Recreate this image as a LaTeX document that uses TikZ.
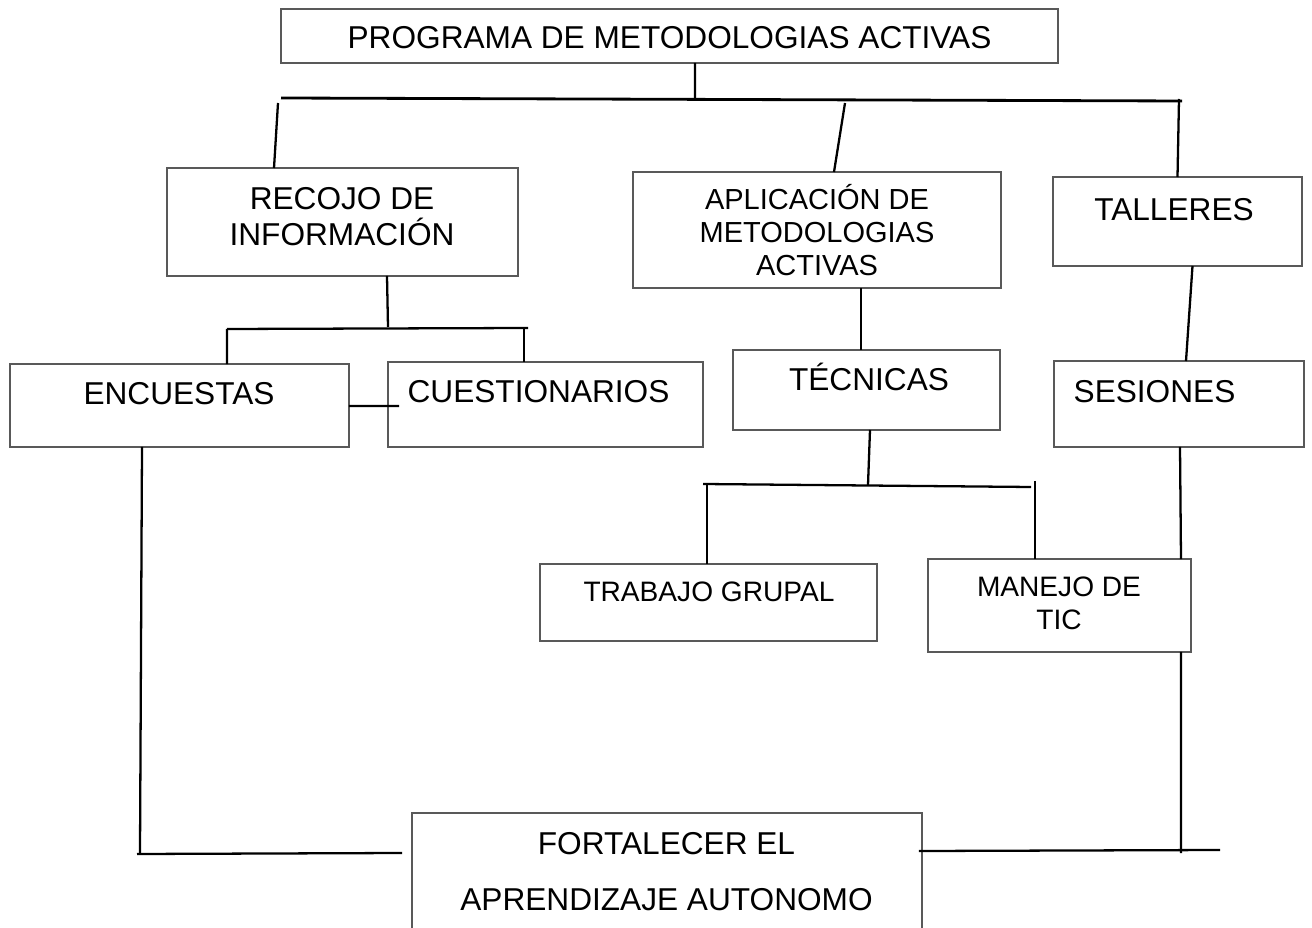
\documentclass[tikz,border=0pt]{standalone}
\usepackage{fontspec}
\setmainfont{Liberation Sans}
\usetikzlibrary{calc,positioning}

\begin{document}
\begin{tikzpicture}[
    x=0.02cm, y=-0.02cm,
    box/.style={rectangle, draw=black!65, line width=0.8pt, inner sep=0pt, outer sep=0pt},
    conn/.style={draw=black, line width=1.3pt},
    txt/.style={inner sep=0pt, anchor=base, align=center, font=\fontsize{18}{20.4}\selectfont},
    txtsm/.style={txt, font=\fontsize{16}{19.3}\selectfont}
]
\useasboundingbox (0,0) rectangle (1312,928);

% Boxes
\node[box, minimum width=15.54cm, minimum height=1.08cm] (prog) at (669.5,36) {};
\node[box, minimum width=7.02cm, minimum height=2.16cm] (recojo) at (342.5,222) {};
\node[box, minimum width=7.36cm, minimum height=2.32cm] (aplic) at (817,230) {};
\node[box, minimum width=4.98cm, minimum height=1.78cm] (talleres) at (1177.5,221.5) {};
\node[box, minimum width=6.78cm, minimum height=1.66cm] (encuestas) at (179.5,405.5) {};
\node[box, minimum width=6.30cm, minimum height=1.70cm] (cuest) at (545.5,404.5) {};
\node[box, minimum width=5.34cm, minimum height=1.60cm] (tecnicas) at (866.5,390) {};
\node[box, minimum width=5.00cm, minimum height=1.72cm] (sesiones) at (1179,404) {};
\node[box, minimum width=6.74cm, minimum height=1.54cm] (trabajo) at (708.5,602.5) {};
\node[box, minimum width=5.26cm, minimum height=1.86cm] (manejo) at (1059.5,605.5) {};
\node[box, minimum width=10.20cm, minimum height=2.80cm] (fort) at (667,883) {};

% Texts (base = last line)
\node[txt] (tprog) at (669.5,48.4) {PROGRAMA DE METODOLOGIAS ACTIVAS};
\node[txt] (trecojo) at (342,245.4) {RECOJO DE\\INFORMACIÓN};
\node[txt, font=\fontsize{16.5}{18.7}\selectfont] (taplic) at (817,275.4) {APLICACIÓN DE\\METODOLOGIAS\\ACTIVAS};
\node[txt] (ttall) at (1174,220.4) {TALLERES};
\node[txt] (tenc) at (179,404.4) {ENCUESTAS};
\node[txt] (tcuest) at (538.5,402.4) {CUESTIONARIOS};
\node[txt] (ttec) at (869,390.4) {TÉCNICAS};
\node[txt] (tses) at (1154.5,402.4) {SESIONES};
\node[txtsm] (ttrab) at (709,602) {TRABAJO GRUPAL};
\node[txtsm] (tman) at (1059,630) {MANEJO DE\\TIC};
\node[txt, font=\fontsize{18}{31.75}\selectfont] (tfort) at (666.5,910.4) {FORTALECER EL\\APRENDIZAJE AUTONOMO};

% Bar points
\coordinate (tbL) at (281,98);
\coordinate (tbR) at (1182,101);
\coordinate (rbL) at (227,329);
\coordinate (rbR) at (528,328);
\coordinate (kbL) at (703,484);
\coordinate (kbR) at (1031,487);
\coordinate (ec) at (399,406);
\coordinate (blL) at (140,853);
\coordinate (blR) at (402,853);
\coordinate (brR) at (1220,850);
\coordinate (vr) at (1181,853);

% Top level
\draw[conn] ($(prog.south)+(25.5,0)$) -- (695,99.5);
\draw[conn, line width=1.6pt] (tbL) -- (tbR);
\draw[conn] (278,103) -- ($(recojo.north)+(-68.5,0)$);
\draw[conn] (845,103) -- ($(aplic.north)+(17,0)$);
\draw[conn] (1179,99) -- (talleres.north);

% Recojo branch
\draw[conn] ($(recojo.south)+(44.5,0)$) -- (388,327);
\draw[conn] (rbL) -- (rbR);
\draw[conn] (rbL) -- ($(encuestas.north)+(47.5,0)$);
\draw[conn] (524,328) -- ($(cuest.north)+(-21.5,0)$);
\draw[conn] ($(encuestas.east)+(0,0.5)$) -- (ec);

% Aplicacion branch
\draw[conn] ($(aplic.south)+(44,0)$) -- ($(tecnicas.north)+(-5.5,0)$);
\draw[conn] ($(tecnicas.south)+(3.5,0)$) -- (868,485);
\draw[conn] (kbL) -- (kbR);
\draw[conn] (707,485) -- ($(trabajo.north)+(-1.5,0)$);
\draw[conn] (1035,481) -- ($(manejo.north)+(-24.5,0)$);

% Talleres branch
\draw[conn] ($(talleres.south)+(15,0)$) -- ($(sesiones.north)+(7,0)$);
\draw[conn] ($(sesiones.south)+(1,0)$) -- ($(manejo.north)+(121.5,0)$);
\draw[conn] ($(manejo.south)+(121.5,0)$) -- (vr);

% Bottom
\draw[conn] ($(encuestas.south)+(-37.5,0)$) -- (blL);
\draw[conn] (137,854) -- (blR);
\draw[conn] ($(fort.north east)+(-3,38)$) -- (brR);

\end{tikzpicture}
\end{document}
